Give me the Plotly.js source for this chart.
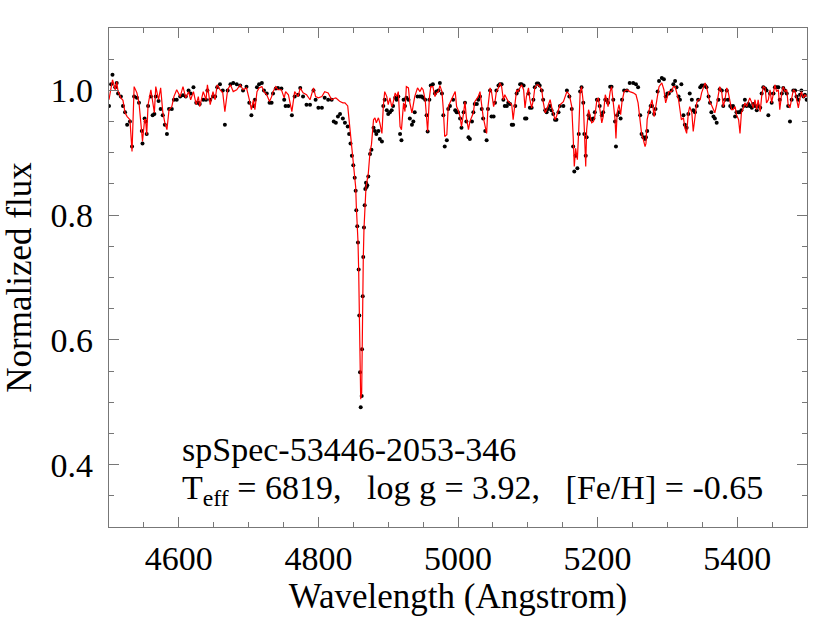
<!DOCTYPE html>
<html>
<head>
<meta charset="utf-8">
<script src="https://cdn.plot.ly/plotly-3.0.1.min.js"></script>
<style>html,body{margin:0;padding:0;background:#fff;}#chart{width:830px;height:623px;}</style>
</head>
<body>
<div id="chart"></div>
<script>
// Wavelength grid (Angstrom)
var wavelength = [
4500,4503,4505,4509,4511,4513,4517,4520,4523,4526,4530,4533,4536,4540,4543,4547,4548,4551,4552.5,4554,
4556,4560,4562.5,4565,4567,4571,4574,4577,4580,4583,4586,4590,4593,4597,4602,4606,4610,4614,4617,4621,
4625,4628,4630,4635,4639,4641,4645,4649,4652,4655,4659,4663,4666,4670,4674,4678,4683,4688,4692,4697,
4701,4704,4707,4709,4712,4715,4719,4722,4726,4730,4733,4735,4739,4742,4747,4751,4753,4757,4762,4766,
4771,4774,4778,4783,4788,4793,4796,4800,4805,4809,4814,4819,4822,4825,4828,4831,4835,4838,4842,4844,
4846,4848,4850,4852,4853.4,4854.3,4855.7,4856.7,4857.7,4858.6,4859.6,4860.6,4862,4862.5,4863.5,4864.3,4865.3,4866.3,4867.2,4868.2,
4869,4870,4871.5,4874,4876,4879,4881,4883,4886,4888,4891,4893,4895,4898,4900,4902.5,4905,4907,4910,4912,
4914.5,4917,4919,4922,4924,4926,4929,4931,4934,4936,4938,4942,4945.5,4948,4950,4953,4955,4956.5,4959,4961,
4964,4967,4969,4972,4974,4977,4979,4981,4984,4986,4988.5,4993,4996,4998,5000,5003,5005,5008,5010,5012,
5015,5017,5020,5022,5024,5027,5029,5031.5,5034,5036,5039,5041,5043,5046,5048,5051,5053,5055,5058,5060,
5062.5,5065,5067,5070,5072,5074.5,5077,5079,5082,5084,5086,5089,5091,5094,5096,5098,5101,5103,5105.5,5108,
5110,5113,5115,5117,5120,5122,5125,5127,5129,5132,5134,5136.5,5139,5141,5144,5146,5151,5156,5159.5,5163,
5165,5166.6,5168.5,5171,5173,5175,5177,5179.5,5181,5183,5184.3,5187,5189,5191.5,5194,5196,5199,5201,5203,5206,
5208,5211,5213,5215,5218,5220,5222.5,5225,5226.3,5228,5230.6,5233,5235,5238,5242,5246,5251,5255,5258,5261,
5263,5265.5,5268,5269.3,5271,5274,5276,5278,5281,5283,5286,5288,5292,5295,5297.5,5300,5302,5306,5308.5,5311,
5313,5316,5318,5320,5323,5325,5327.6,5330,5332,5335,5337,5339.5,5342,5344,5347,5349,5351.5,5354,5356,5359,
5361,5363,5366,5368,5370.6,5373,5375,5378,5380,5382.5,5385,5387,5390,5392,5394,5397,5399,5402,5404,5406,
5409,5411,5413.5,5416,5418,5421,5423,5425.5,5428,5430,5433,5435,5437.4,5440,5442,5444.6,5447,5449.4,5452,5454,
5456.5,5459,5461,5464,5466,5468.5,5471,5473,5475.6,5478,5480.4,5483,5485,5487.6,5490,5492,5495,5497,5499.5
];

// Model (synthetic) normalized flux, red line
var modelFlux = [
0.985,1.005,1.017,1.001,1.014,0.998,0.988,0.984,0.964,0.958,0.953,0.902,1.006,0.996,0.980,0.931,0.918,0.953,0.953,0.929,
0.977,1.001,0.980,0.964,1.006,0.985,1.004,0.966,0.948,0.937,0.969,0.974,0.990,1.001,0.990,1.006,0.988,0.998,0.985,0.998,
0.977,0.990,0.974,0.998,0.985,1.009,0.977,0.998,0.985,1.009,1.001,0.996,0.966,1.001,1.009,0.998,1.001,1.009,1.001,1.004,
0.985,0.969,0.985,0.969,0.998,1.004,1.006,0.998,0.993,0.982,0.990,0.998,1.006,1.001,1.001,0.988,0.998,0.993,0.966,0.998,
0.990,1.004,0.996,0.993,0.985,1.004,0.990,0.988,0.990,0.998,0.996,0.985,0.987,0.988,0.985,0.982,0.980,0.980,0.975,0.953,
0.930,0.910,0.883,0.867,0.845,0.815,0.785,0.758,0.712,0.640,0.555,0.505,0.515,0.580,0.668,0.730,0.778,0.812,0.835,0.845,
0.850,0.855,0.867,0.902,0.913,0.953,0.956,0.948,0.956,0.948,0.931,0.974,0.998,0.990,0.977,0.988,0.974,0.980,0.996,0.990,
0.998,0.942,0.937,0.980,0.966,1.006,1.004,0.980,0.964,0.977,0.990,1.004,0.998,1.004,1.001,0.985,0.956,0.934,0.988,1.006,
1.006,0.990,0.996,0.998,1.008,0.998,0.969,0.926,0.929,0.974,0.980,0.990,0.998,0.974,0.969,0.958,0.942,0.964,0.982,0.956,
0.937,0.950,0.958,0.964,0.982,0.988,0.990,0.998,0.972,0.958,0.942,0.931,0.974,1.004,0.998,0.974,0.982,0.998,1.004,1.012,
1.006,0.985,0.993,0.985,0.982,0.980,0.977,0.953,0.977,1.001,0.998,1.004,1.009,1.001,0.972,0.990,1.004,0.985,0.972,0.985,
1.004,1.009,1.009,1.006,1.001,0.982,0.964,0.969,0.977,0.985,0.974,0.964,0.953,0.958,0.969,0.977,0.982,0.998,0.993,0.974,
0.926,0.878,0.907,0.889,0.937,0.996,1.006,0.980,0.937,0.878,0.937,0.969,0.961,0.948,0.950,0.958,0.985,0.988,0.972,0.948,
0.958,0.993,0.985,0.974,0.998,1.006,0.980,0.953,0.923,0.964,0.977,0.961,0.982,0.998,1.001,0.998,0.996,0.993,0.980,0.953,
0.931,0.921,0.910,0.915,0.953,0.969,0.977,0.985,0.958,0.972,0.996,1.006,1.012,1.001,0.980,0.993,0.998,0.998,1.006,1.006,
0.998,0.985,0.969,0.953,0.956,0.940,0.931,0.964,0.974,0.964,0.934,0.958,0.980,0.985,0.985,0.996,1.006,1.012,1.006,0.993,
0.980,0.977,0.969,0.964,0.977,0.996,1.006,0.996,0.974,0.985,1.004,0.998,0.980,0.969,0.969,0.974,0.961,0.953,0.931,0.964,
0.972,0.980,0.974,0.982,0.988,0.980,0.972,0.985,0.969,0.985,0.966,0.990,1.006,1.004,0.980,0.985,1.001,0.980,0.996,1.009,
0.998,1.001,0.969,0.998,1.006,0.998,1.001,0.977,0.972,0.988,1.001,0.998,0.985,0.972,0.988,0.998,0.988,0.993,0.990
];

// Observed normalized flux, black dots
var observedFlux = [
0.975,1.010,1.025,1.005,1.012,0.995,0.990,0.975,0.965,0.945,0.950,0.910,0.990,0.988,0.980,0.935,0.915,0.955,0.950,0.930,
0.975,0.990,0.960,0.962,0.990,0.983,0.970,0.960,0.945,0.930,0.970,0.970,0.985,0.985,0.990,0.992,0.990,1.000,0.995,1.005,
0.980,0.980,0.978,0.985,0.985,1.000,0.985,0.990,0.990,1.005,1.010,1.000,0.945,1.000,1.010,1.012,1.010,1.008,1.000,1.006,
0.980,0.960,0.975,0.985,1.005,1.010,1.012,1.000,0.995,0.980,0.980,0.995,1.003,1.004,1.003,0.985,0.975,0.975,0.960,0.990,
0.993,1.004,0.990,0.977,0.977,1.000,0.985,0.972,0.972,0.988,0.985,0.985,0.950,0.948,0.958,0.962,0.955,0.948,0.942,0.930,
0.915,0.895,0.880,0.860,0.839,0.808,0.782,0.756,0.713,0.639,0.548,0.492,0.510,0.585,0.670,0.733,0.780,0.816,0.842,0.852,
0.845,0.848,0.862,0.898,0.905,0.940,0.935,0.930,0.935,0.922,0.918,0.975,0.985,0.968,0.962,0.965,0.968,0.975,0.988,0.985,
0.990,0.930,0.920,0.985,0.975,0.988,0.985,0.955,0.945,0.950,0.965,0.990,0.990,0.990,0.988,0.985,0.960,0.934,0.985,1.008,
1.010,0.995,0.998,1.000,1.012,0.995,0.960,0.910,0.920,0.970,0.975,0.985,0.968,0.965,0.965,0.955,0.940,0.965,0.980,0.950,
0.925,0.922,0.950,0.965,0.978,0.978,0.985,0.990,0.970,0.955,0.935,0.920,0.970,1.000,0.958,0.958,0.980,1.000,1.008,1.010,
1.010,0.985,0.975,0.975,0.980,0.978,0.945,0.945,0.975,0.995,1.000,1.010,1.010,1.008,0.955,0.955,0.995,0.972,0.972,0.985,
1.005,1.011,1.011,1.008,1.000,0.985,0.968,0.965,0.970,0.975,0.968,0.962,0.953,0.953,0.965,0.975,0.975,1.000,0.990,0.970,
0.910,0.870,0.895,0.875,0.930,0.998,1.005,0.980,0.930,0.895,0.925,0.960,0.955,0.953,0.955,0.965,0.985,0.985,0.975,0.960,
0.965,0.985,0.985,0.980,1.006,1.006,0.985,0.950,0.910,0.960,0.965,0.955,0.985,1.000,1.000,1.012,1.012,1.010,1.005,0.960,
0.930,0.925,0.922,0.925,0.935,0.965,0.975,0.975,0.962,0.970,0.998,1.015,1.020,1.018,0.990,0.995,0.995,1.000,1.010,1.015,
1.005,0.990,0.985,1.010,0.960,0.945,0.940,0.962,0.995,0.985,0.968,0.965,0.975,0.985,1.005,1.008,1.008,1.008,1.005,0.990,
0.980,0.965,0.958,0.955,0.948,0.985,1.002,1.000,0.975,0.985,1.000,0.985,0.975,0.972,0.975,0.958,0.965,0.965,0.965,0.968,
0.975,0.985,0.975,0.978,0.975,0.972,0.978,0.975,0.968,0.975,0.972,0.995,1.005,1.003,1.000,0.960,0.995,0.980,0.995,1.005,
1.005,1.005,0.985,0.995,1.004,1.000,0.995,0.975,0.950,0.985,1.000,1.000,0.990,0.985,0.993,1.000,0.990,0.993,0.985
];

var xTickVals = [4600, 4800, 5000, 5200, 5400];
var yTickVals = [0.4, 0.6, 0.8, 1.0];
var yTickText = ["0.4", "0.6", "0.8", "1.0"];
var specName = "spSpec-53446-2053-346";
var paramText = "T<sub>eff</sub> = 6819,\u00a0\u00a0\u00a0log g = 3.92,\u00a0\u00a0\u00a0[Fe/H] = -0.65";

var serif = "Liberation Serif, Times New Roman, serif";

var traces = [
  {
    x: wavelength, y: observedFlux, type: "scatter", mode: "markers",
    marker: {color: "#000000", size: 4}, name: "observed"
  },
  {
    x: wavelength, y: modelFlux, type: "scatter", mode: "lines",
    line: {color: "#ff0000", width: 1.2}, name: "model"
  }
];

var axisCommon = {
  showgrid: false, zeroline: false, showline: true, linecolor: "#777777", linewidth: 1.3,
  mirror: "ticks", ticks: "inside", tickcolor: "#777777", tickwidth: 1,
  tickfont: {family: serif, size: 34, color: "#000"}
};

var layout = {
  width: 830, height: 623,
  margin: {l: 109, r: 23, t: 28, b: 96},
  paper_bgcolor: "#fff", plot_bgcolor: "#fff",
  showlegend: false,
  font: {family: serif, color: "#000"},
  xaxis: Object.assign({}, axisCommon, {
    range: [4500, 5500], tickvals: xTickVals, ticklen: 10,
    minor: {dtick: 50, ticks: "inside", ticklen: 5, tickcolor: "#777777"},
    ticklabelstandoff: 1,
    title: {text: "Wavelength (Angstrom)", font: {family: serif, size: 35, color: "#000"}, standoff: 4}
  }),
  yaxis: Object.assign({}, axisCommon, {
    range: [0.3, 1.1], tickvals: yTickVals, ticktext: yTickText, ticklen: 10,
    minor: {dtick: 0.05, ticks: "inside", ticklen: 5, tickcolor: "#777777"},
    ticklabelstandoff: 8,
    title: {text: "Normalized flux", font: {family: serif, size: 35, color: "#000"}, standoff: 12}
  }),
  annotations: [
    {xref: "paper", yref: "paper", x: 0.1017, y: 0.196, xanchor: "left", yanchor: "top",
     text: specName, showarrow: false, font: {family: serif, size: 34, color: "#000"}},
    {xref: "paper", yref: "paper", x: 0.1017, y: 0.120, xanchor: "left", yanchor: "top",
     text: paramText, showarrow: false, font: {family: serif, size: 34, color: "#000"}}
  ]
};

Plotly.newPlot("chart", traces, layout, {displayModeBar: false, staticPlot: true});
</script>
</body>
</html>
